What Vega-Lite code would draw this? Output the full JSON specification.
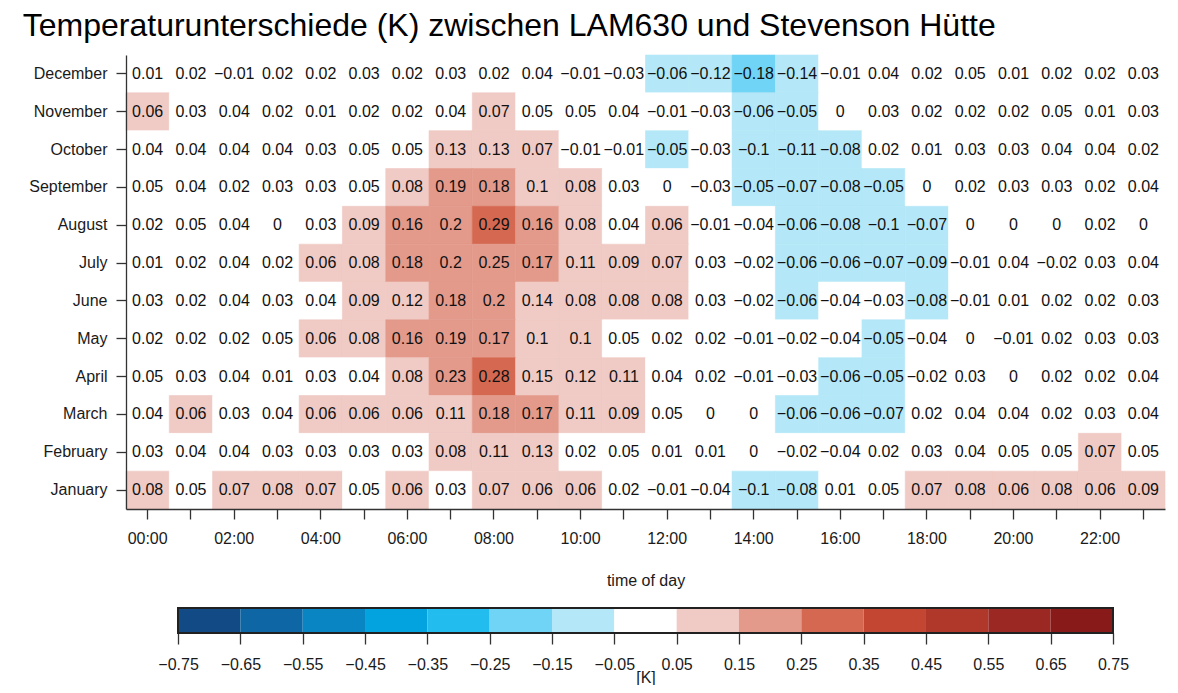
{
  "$schema": "https://vega.github.io/schema/vega-lite/v6.json",
  "background": "white",
  "padding": {"left": 22, "top": 9, "right": 5, "bottom": 0},
  "title": {"text": "Temperaturunterschiede (K) zwischen LAM630 und Stevenson Hütte", "anchor": "start", "fontSize": 32, "font": "Liberation Sans", "fontWeight": "normal", "color": "#000000", "offset": 12, "dx": -6},
  "config": {
    "font": "Liberation Sans",
    "view": {"stroke": null},
    "axis": {"labelFont": "Liberation Sans", "titleFont": "Liberation Sans", "domainColor": "#333333", "tickColor": "#333333", "labelColor": "#1a1a1a", "titleColor": "#1a1a1a", "grid": false, "labelFontSize": 16, "titleFontSize": 16, "titleFontWeight": "normal", "domainWidth": 1.3, "tickWidth": 1.3}
  },
  "bounds": "flush",
  "spacing": 99,
  "vconcat": [
    {
      "width": 1039,
      "height": 454,
      "data": {"values": [
        {"month":"December","hour":0,"value":0.01},{"month":"December","hour":1,"value":0.02},{"month":"December","hour":2,"value":-0.01},{"month":"December","hour":3,"value":0.02},{"month":"December","hour":4,"value":0.02},{"month":"December","hour":5,"value":0.03},{"month":"December","hour":6,"value":0.02},{"month":"December","hour":7,"value":0.03},{"month":"December","hour":8,"value":0.02},{"month":"December","hour":9,"value":0.04},{"month":"December","hour":10,"value":-0.01},{"month":"December","hour":11,"value":-0.03},{"month":"December","hour":12,"value":-0.06},{"month":"December","hour":13,"value":-0.12},{"month":"December","hour":14,"value":-0.18},{"month":"December","hour":15,"value":-0.14},{"month":"December","hour":16,"value":-0.01},{"month":"December","hour":17,"value":0.04},{"month":"December","hour":18,"value":0.02},{"month":"December","hour":19,"value":0.049},{"month":"December","hour":20,"value":0.01},{"month":"December","hour":21,"value":0.02},{"month":"December","hour":22,"value":0.02},{"month":"December","hour":23,"value":0.03},
        {"month":"November","hour":0,"value":0.06},{"month":"November","hour":1,"value":0.03},{"month":"November","hour":2,"value":0.04},{"month":"November","hour":3,"value":0.02},{"month":"November","hour":4,"value":0.01},{"month":"November","hour":5,"value":0.02},{"month":"November","hour":6,"value":0.02},{"month":"November","hour":7,"value":0.04},{"month":"November","hour":8,"value":0.07},{"month":"November","hour":9,"value":0.049},{"month":"November","hour":10,"value":0.049},{"month":"November","hour":11,"value":0.04},{"month":"November","hour":12,"value":-0.01},{"month":"November","hour":13,"value":-0.03},{"month":"November","hour":14,"value":-0.06},{"month":"November","hour":15,"value":-0.051},{"month":"November","hour":16,"value":0},{"month":"November","hour":17,"value":0.03},{"month":"November","hour":18,"value":0.02},{"month":"November","hour":19,"value":0.02},{"month":"November","hour":20,"value":0.02},{"month":"November","hour":21,"value":0.049},{"month":"November","hour":22,"value":0.01},{"month":"November","hour":23,"value":0.03},
        {"month":"October","hour":0,"value":0.04},{"month":"October","hour":1,"value":0.04},{"month":"October","hour":2,"value":0.04},{"month":"October","hour":3,"value":0.04},{"month":"October","hour":4,"value":0.03},{"month":"October","hour":5,"value":0.049},{"month":"October","hour":6,"value":0.049},{"month":"October","hour":7,"value":0.13},{"month":"October","hour":8,"value":0.13},{"month":"October","hour":9,"value":0.07},{"month":"October","hour":10,"value":-0.01},{"month":"October","hour":11,"value":-0.01},{"month":"October","hour":12,"value":-0.051},{"month":"October","hour":13,"value":-0.03},{"month":"October","hour":14,"value":-0.1},{"month":"October","hour":15,"value":-0.11},{"month":"October","hour":16,"value":-0.08},{"month":"October","hour":17,"value":0.02},{"month":"October","hour":18,"value":0.01},{"month":"October","hour":19,"value":0.03},{"month":"October","hour":20,"value":0.03},{"month":"October","hour":21,"value":0.04},{"month":"October","hour":22,"value":0.04},{"month":"October","hour":23,"value":0.02},
        {"month":"September","hour":0,"value":0.049},{"month":"September","hour":1,"value":0.04},{"month":"September","hour":2,"value":0.02},{"month":"September","hour":3,"value":0.03},{"month":"September","hour":4,"value":0.03},{"month":"September","hour":5,"value":0.049},{"month":"September","hour":6,"value":0.08},{"month":"September","hour":7,"value":0.19},{"month":"September","hour":8,"value":0.18},{"month":"September","hour":9,"value":0.1},{"month":"September","hour":10,"value":0.08},{"month":"September","hour":11,"value":0.03},{"month":"September","hour":12,"value":0},{"month":"September","hour":13,"value":-0.03},{"month":"September","hour":14,"value":-0.051},{"month":"September","hour":15,"value":-0.07},{"month":"September","hour":16,"value":-0.08},{"month":"September","hour":17,"value":-0.051},{"month":"September","hour":18,"value":0},{"month":"September","hour":19,"value":0.02},{"month":"September","hour":20,"value":0.03},{"month":"September","hour":21,"value":0.03},{"month":"September","hour":22,"value":0.02},{"month":"September","hour":23,"value":0.04},
        {"month":"August","hour":0,"value":0.02},{"month":"August","hour":1,"value":0.049},{"month":"August","hour":2,"value":0.04},{"month":"August","hour":3,"value":0},{"month":"August","hour":4,"value":0.03},{"month":"August","hour":5,"value":0.09},{"month":"August","hour":6,"value":0.16},{"month":"August","hour":7,"value":0.2},{"month":"August","hour":8,"value":0.29},{"month":"August","hour":9,"value":0.16},{"month":"August","hour":10,"value":0.08},{"month":"August","hour":11,"value":0.04},{"month":"August","hour":12,"value":0.06},{"month":"August","hour":13,"value":-0.01},{"month":"August","hour":14,"value":-0.04},{"month":"August","hour":15,"value":-0.06},{"month":"August","hour":16,"value":-0.08},{"month":"August","hour":17,"value":-0.1},{"month":"August","hour":18,"value":-0.07},{"month":"August","hour":19,"value":0},{"month":"August","hour":20,"value":0},{"month":"August","hour":21,"value":0},{"month":"August","hour":22,"value":0.02},{"month":"August","hour":23,"value":0},
        {"month":"July","hour":0,"value":0.01},{"month":"July","hour":1,"value":0.02},{"month":"July","hour":2,"value":0.04},{"month":"July","hour":3,"value":0.02},{"month":"July","hour":4,"value":0.06},{"month":"July","hour":5,"value":0.08},{"month":"July","hour":6,"value":0.18},{"month":"July","hour":7,"value":0.2},{"month":"July","hour":8,"value":0.249},{"month":"July","hour":9,"value":0.17},{"month":"July","hour":10,"value":0.11},{"month":"July","hour":11,"value":0.09},{"month":"July","hour":12,"value":0.07},{"month":"July","hour":13,"value":0.03},{"month":"July","hour":14,"value":-0.02},{"month":"July","hour":15,"value":-0.06},{"month":"July","hour":16,"value":-0.06},{"month":"July","hour":17,"value":-0.07},{"month":"July","hour":18,"value":-0.09},{"month":"July","hour":19,"value":-0.01},{"month":"July","hour":20,"value":0.04},{"month":"July","hour":21,"value":-0.02},{"month":"July","hour":22,"value":0.03},{"month":"July","hour":23,"value":0.04},
        {"month":"June","hour":0,"value":0.03},{"month":"June","hour":1,"value":0.02},{"month":"June","hour":2,"value":0.04},{"month":"June","hour":3,"value":0.03},{"month":"June","hour":4,"value":0.04},{"month":"June","hour":5,"value":0.09},{"month":"June","hour":6,"value":0.12},{"month":"June","hour":7,"value":0.18},{"month":"June","hour":8,"value":0.2},{"month":"June","hour":9,"value":0.14},{"month":"June","hour":10,"value":0.08},{"month":"June","hour":11,"value":0.08},{"month":"June","hour":12,"value":0.08},{"month":"June","hour":13,"value":0.03},{"month":"June","hour":14,"value":-0.02},{"month":"June","hour":15,"value":-0.06},{"month":"June","hour":16,"value":-0.04},{"month":"June","hour":17,"value":-0.03},{"month":"June","hour":18,"value":-0.08},{"month":"June","hour":19,"value":-0.01},{"month":"June","hour":20,"value":0.01},{"month":"June","hour":21,"value":0.02},{"month":"June","hour":22,"value":0.02},{"month":"June","hour":23,"value":0.03},
        {"month":"May","hour":0,"value":0.02},{"month":"May","hour":1,"value":0.02},{"month":"May","hour":2,"value":0.02},{"month":"May","hour":3,"value":0.049},{"month":"May","hour":4,"value":0.06},{"month":"May","hour":5,"value":0.08},{"month":"May","hour":6,"value":0.16},{"month":"May","hour":7,"value":0.19},{"month":"May","hour":8,"value":0.17},{"month":"May","hour":9,"value":0.1},{"month":"May","hour":10,"value":0.1},{"month":"May","hour":11,"value":0.049},{"month":"May","hour":12,"value":0.02},{"month":"May","hour":13,"value":0.02},{"month":"May","hour":14,"value":-0.01},{"month":"May","hour":15,"value":-0.02},{"month":"May","hour":16,"value":-0.04},{"month":"May","hour":17,"value":-0.051},{"month":"May","hour":18,"value":-0.04},{"month":"May","hour":19,"value":0},{"month":"May","hour":20,"value":-0.01},{"month":"May","hour":21,"value":0.02},{"month":"May","hour":22,"value":0.03},{"month":"May","hour":23,"value":0.03},
        {"month":"April","hour":0,"value":0.049},{"month":"April","hour":1,"value":0.03},{"month":"April","hour":2,"value":0.04},{"month":"April","hour":3,"value":0.01},{"month":"April","hour":4,"value":0.03},{"month":"April","hour":5,"value":0.04},{"month":"April","hour":6,"value":0.08},{"month":"April","hour":7,"value":0.23},{"month":"April","hour":8,"value":0.28},{"month":"April","hour":9,"value":0.149},{"month":"April","hour":10,"value":0.12},{"month":"April","hour":11,"value":0.11},{"month":"April","hour":12,"value":0.04},{"month":"April","hour":13,"value":0.02},{"month":"April","hour":14,"value":-0.01},{"month":"April","hour":15,"value":-0.03},{"month":"April","hour":16,"value":-0.06},{"month":"April","hour":17,"value":-0.051},{"month":"April","hour":18,"value":-0.02},{"month":"April","hour":19,"value":0.03},{"month":"April","hour":20,"value":0},{"month":"April","hour":21,"value":0.02},{"month":"April","hour":22,"value":0.02},{"month":"April","hour":23,"value":0.04},
        {"month":"March","hour":0,"value":0.04},{"month":"March","hour":1,"value":0.06},{"month":"March","hour":2,"value":0.03},{"month":"March","hour":3,"value":0.04},{"month":"March","hour":4,"value":0.06},{"month":"March","hour":5,"value":0.06},{"month":"March","hour":6,"value":0.06},{"month":"March","hour":7,"value":0.11},{"month":"March","hour":8,"value":0.18},{"month":"March","hour":9,"value":0.17},{"month":"March","hour":10,"value":0.11},{"month":"March","hour":11,"value":0.09},{"month":"March","hour":12,"value":0.049},{"month":"March","hour":13,"value":0},{"month":"March","hour":14,"value":0},{"month":"March","hour":15,"value":-0.06},{"month":"March","hour":16,"value":-0.06},{"month":"March","hour":17,"value":-0.07},{"month":"March","hour":18,"value":0.02},{"month":"March","hour":19,"value":0.04},{"month":"March","hour":20,"value":0.04},{"month":"March","hour":21,"value":0.02},{"month":"March","hour":22,"value":0.03},{"month":"March","hour":23,"value":0.04},
        {"month":"February","hour":0,"value":0.03},{"month":"February","hour":1,"value":0.04},{"month":"February","hour":2,"value":0.04},{"month":"February","hour":3,"value":0.03},{"month":"February","hour":4,"value":0.03},{"month":"February","hour":5,"value":0.03},{"month":"February","hour":6,"value":0.03},{"month":"February","hour":7,"value":0.08},{"month":"February","hour":8,"value":0.11},{"month":"February","hour":9,"value":0.13},{"month":"February","hour":10,"value":0.02},{"month":"February","hour":11,"value":0.049},{"month":"February","hour":12,"value":0.01},{"month":"February","hour":13,"value":0.01},{"month":"February","hour":14,"value":0},{"month":"February","hour":15,"value":-0.02},{"month":"February","hour":16,"value":-0.04},{"month":"February","hour":17,"value":0.02},{"month":"February","hour":18,"value":0.03},{"month":"February","hour":19,"value":0.04},{"month":"February","hour":20,"value":0.049},{"month":"February","hour":21,"value":0.049},{"month":"February","hour":22,"value":0.07},{"month":"February","hour":23,"value":0.049},
        {"month":"January","hour":0,"value":0.08},{"month":"January","hour":1,"value":0.049},{"month":"January","hour":2,"value":0.07},{"month":"January","hour":3,"value":0.08},{"month":"January","hour":4,"value":0.07},{"month":"January","hour":5,"value":0.049},{"month":"January","hour":6,"value":0.06},{"month":"January","hour":7,"value":0.03},{"month":"January","hour":8,"value":0.07},{"month":"January","hour":9,"value":0.06},{"month":"January","hour":10,"value":0.06},{"month":"January","hour":11,"value":0.02},{"month":"January","hour":12,"value":-0.01},{"month":"January","hour":13,"value":-0.04},{"month":"January","hour":14,"value":-0.1},{"month":"January","hour":15,"value":-0.08},{"month":"January","hour":16,"value":0.01},{"month":"January","hour":17,"value":0.049},{"month":"January","hour":18,"value":0.07},{"month":"January","hour":19,"value":0.08},{"month":"January","hour":20,"value":0.06},{"month":"January","hour":21,"value":0.08},{"month":"January","hour":22,"value":0.06},{"month":"January","hour":23,"value":0.09}
      ]},
      "encoding": {
        "x": {"field": "hour", "type": "ordinal", "scale": {"paddingInner": 0, "paddingOuter": 0},
              "axis": {"title": "time of day", "labelAngle": 0, "labelExpr": "datum.value % 2 == 0 ? (datum.value < 10 ? '0' : '') + datum.value + ':00' : ''", "tickSize": 10, "labelPadding": 11, "titlePadding": 26, "offset": 0}},
        "y": {"field": "month", "type": "ordinal", "sort": ["December","November","October","September","August","July","June","May","April","March","February","January"], "scale": {"paddingInner": 0, "paddingOuter": 0},
              "axis": {"title": null, "tickSize": 10, "labelPadding": 9}}
      },
      "layer": [
        {"mark": {"type": "rect", "strokeWidth": 0.6},
         "encoding": {
           "color": {"field": "value", "type": "quantitative", "scale": {"type": "threshold", "domain": [-0.65,-0.55,-0.45,-0.35,-0.25,-0.15,-0.05,0.05,0.15,0.25,0.35,0.45,0.55,0.65], "range": ["#124a86","#0e66a4","#0885c2","#02a3df","#22bcee","#6fd4f5","#b4e8f8","#ffffff","#f0cac4","#e39a8b","#d56851","#c34633","#b0382a","#9b2823","#881a1a"]}, "legend": null},
           "stroke": {"field": "value", "type": "quantitative", "scale": {"type": "threshold", "domain": [-0.65,-0.55,-0.45,-0.35,-0.25,-0.15,-0.05,0.05,0.15,0.25,0.35,0.45,0.55,0.65], "range": ["#124a86","#0e66a4","#0885c2","#02a3df","#22bcee","#6fd4f5","#b4e8f8","#ffffff","#f0cac4","#e39a8b","#d56851","#c34633","#b0382a","#9b2823","#881a1a"]}, "legend": null}
         }},
        {"mark": {"type": "text", "fontSize": 16, "font": "Liberation Sans", "color": "#111111"},
         "encoding": {"text": {"field": "value", "type": "quantitative", "format": ".2~f"}}}
      ]
    },
    {
      "width": 1039,
      "height": 25,
      "data": {"values": [
        {"lo": -0.75, "hi": -0.65},{"lo": -0.65, "hi": -0.55},{"lo": -0.55, "hi": -0.45},{"lo": -0.45, "hi": -0.35},{"lo": -0.35, "hi": -0.25},{"lo": -0.25, "hi": -0.15},{"lo": -0.15, "hi": -0.05},{"lo": -0.05, "hi": 0.05},{"lo": 0.05, "hi": 0.15},{"lo": 0.15, "hi": 0.25},{"lo": 0.25, "hi": 0.35},{"lo": 0.35, "hi": 0.45},{"lo": 0.45, "hi": 0.55},{"lo": 0.55, "hi": 0.65},{"lo": 0.65, "hi": 0.75}
      ]},
      "layer": [
        {"mark": {"type": "rect"},
         "encoding": {
           "x": {"field": "lo", "type": "quantitative", "scale": {"domain": [-0.8335, 0.8335], "nice": false, "zero": false},
                 "axis": {"values": [-0.75,-0.65,-0.55,-0.45,-0.35,-0.25,-0.15,-0.05,0.05,0.15,0.25,0.35,0.45,0.55,0.65,0.75], "format": ".2f", "domain": false, "tickSize": 11, "labelPadding": 12, "title": "[K]", "titlePadding": -3}},
           "x2": {"field": "hi"},
           "color": {"field": "lo", "type": "quantitative", "scale": {"type": "threshold", "domain": [-0.65,-0.55,-0.45,-0.35,-0.25,-0.15,-0.05,0.05,0.15,0.25,0.35,0.45,0.55,0.65], "range": ["#124a86","#0e66a4","#0885c2","#02a3df","#22bcee","#6fd4f5","#b4e8f8","#ffffff","#f0cac4","#e39a8b","#d56851","#c34633","#b0382a","#9b2823","#881a1a"]}, "legend": null}
         }},
        {"mark": {"type": "rect", "filled": false, "stroke": "#222222", "strokeWidth": 1.5},
         "encoding": {"x": {"datum": -0.75, "type": "quantitative"}, "x2": {"datum": 0.75}}}
      ]
    }
  ]
}
